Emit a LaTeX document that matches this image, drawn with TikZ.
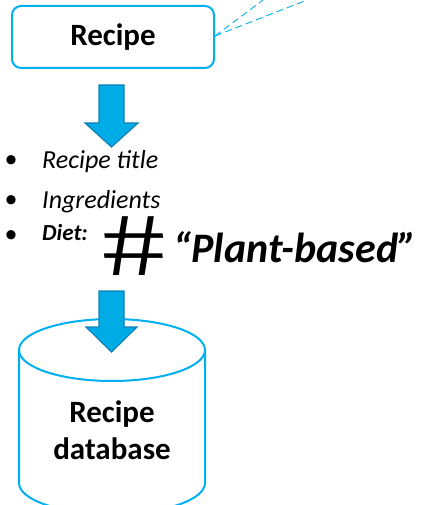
\documentclass[tikz,border=0pt]{standalone}
\usepackage{fontspec}
\setmainfont{Carlito}
\newfontfamily\hashfont{Liberation Sans}
\definecolor{boxline}{RGB}{0,176,240}
\definecolor{arrowfill}{RGB}{0,172,230}
\definecolor{arrowline}{RGB}{18,128,182}
\tikzset{
  x=1pt, y=-1pt,
  titlebox/.style={draw=boxline, line width=2pt, rounded corners=9pt, fill=white,
    minimum width=202pt, minimum height=62pt, font=\fontsize{31}{37}\selectfont\bfseries},
  linkline/.style={draw=boxline, line width=0.9pt, dash pattern=on 7pt off 4pt},
  blockarrow/.style={fill=arrowfill, draw=arrowline, line width=1.2pt, line join=miter},
  bullettext/.style={anchor=base west, inner sep=0pt, font=\fontsize{26}{30}\selectfont\itshape},
  bulletdot/.style={anchor=base, inner sep=0pt, font=\fontsize{26}{30}\selectfont},
  dbline/.style={draw=boxline, line width=2pt},
  dblabel/.style={align=center, font=\fontsize{31}{37}\selectfont\bfseries}
}
\begin{document}
\begin{tikzpicture}
\useasboundingbox (0,0) rectangle (424,505);
\clip (0,0) rectangle (424,505);

% source box
\node[titlebox] (recipe) at (113,37) {Recipe};
\coordinate (far1) at (263,0);
\coordinate (far2) at (307,0);
\draw[linkline] (recipe.east) ++(0,-1) coordinate (hook) -- (far1);
\draw[linkline] (hook) -- (far2);

% first down arrow
\draw[blockarrow] (99,85) -- (124,85) -- (124,123) -- (138,123) -- (111.5,147)
  -- (85,123) -- (99,123) -- cycle;

% attribute list
\node[bulletdot] (b1) at (11,167) {•};
\node[bullettext] (t1) at (42,168) {Recipe title};
\node[bulletdot] (b2) at (11,207) {•};
\node[bullettext] (t2) at (42,208) {Ingredients};
\node[bulletdot] (b3) at (11,242) {•};
\node[bullettext, font=\fontsize{23}{26}\selectfont\bfseries\itshape] (t3) at (42,240) {Diet:};
\node[anchor=center, inner sep=0pt, xslant=-0.12, transform shape,
  font=\hashfont\fontsize{86}{86}\selectfont] (hash) at (134,246)
  {\scalebox{1.3}[1]{\#}};
\node[anchor=base west, inner sep=0pt, font=\fontsize{42}{48}\selectfont\bfseries\itshape] (tag) at (173,262) {“Plant-based”};

% database cylinder
\fill[white] (19,350) -- (19,483) arc[start angle=180, end angle=0, x radius=93, y radius=31]
  -- (205,350) -- cycle;
\draw[dbline] (19,350) -- (19,483) arc[start angle=180, end angle=0, x radius=93, y radius=31]
  -- (205,350);
\draw[dbline] (112,350) ellipse[x radius=93, y radius=31];
\node[dblabel] (db) at (112,430) {Recipe\\database};

% second down arrow
\draw[blockarrow] (99,291) -- (124,291) -- (124,327) -- (137,327) -- (111.5,352)
  -- (86,327) -- (99,327) -- cycle;
\end{tikzpicture}
\end{document}
